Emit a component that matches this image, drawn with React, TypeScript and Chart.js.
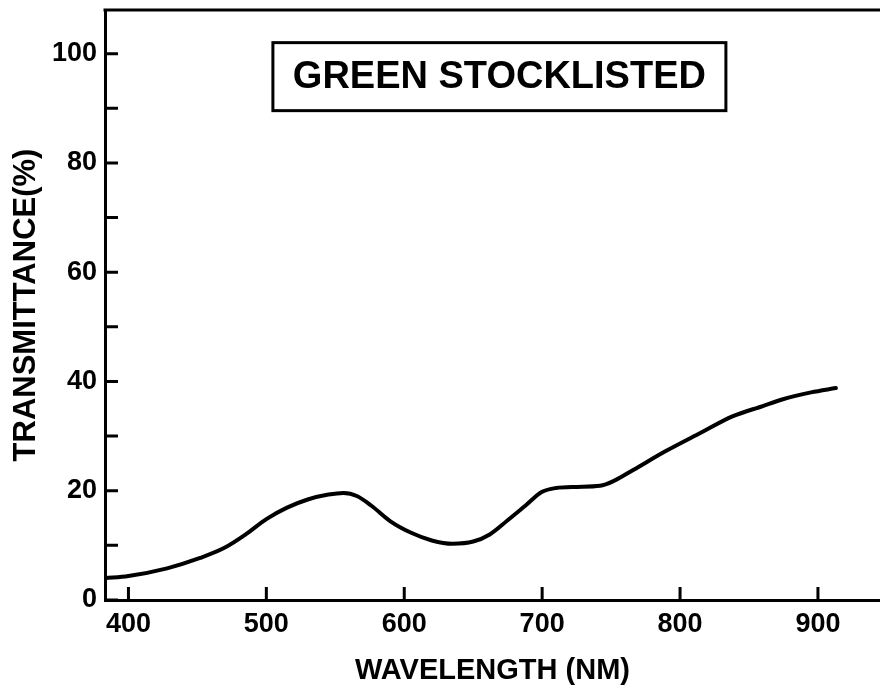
import { useEffect, useRef } from "react";
import { Chart, registerables } from "chart.js";

Chart.register(...registerables);

// ---- data ----
const wavelengths = [383, 400, 428, 452, 470, 485, 500, 515, 530, 545, 556, 566, 576, 590, 605, 620, 635, 650, 662, 675, 688, 700, 710, 725, 742, 752, 766, 790, 815, 838, 860, 874, 895, 913];
const transmittance = [4.0, 4.4, 5.8, 7.7, 9.6, 12.0, 14.8, 16.9, 18.4, 19.3, 19.6, 19.0, 17.3, 14.4, 12.3, 10.9, 10.3, 10.7, 12.0, 14.6, 17.3, 19.8, 20.5, 20.7, 20.9, 21.8, 23.8, 27.3, 30.6, 33.6, 35.5, 36.7, 38.0, 38.8];
const xTickValues = [400, 500, 600, 700, 800, 900];
const yTickValues = [0, 10, 20, 30, 40, 50, 60, 70, 80, 90, 100];
const yLabelValues = [0, 20, 40, 60, 80, 100];
const boxLabel = "GREEN STOCKLISTED";
const xTitle = "WAVELENGTH (NM)";
const yTitle = "TRANSMITTANCE(%)";

const FONT = '"Liberation Sans", Arial, Helvetica, sans-serif';

const framePlugin = {
  id: "framePlugin",
  afterDraw(chart: any) {
    const { ctx, chartArea, scales } = chart;
    const { left, top, right, bottom } = chartArea;
    const xs = scales.x;
    const ys = scales.y;
    ctx.save();
    ctx.strokeStyle = "#000";
    ctx.lineWidth = 3;
    ctx.lineCap = "butt";
    // top frame line
    ctx.beginPath();
    ctx.moveTo(left - 1.5, top);
    ctx.lineTo(right, top);
    ctx.stroke();
    // inward ticks on y axis
    ctx.beginPath();
    for (const v of yTickValues) {
      const py = ys.getPixelForValue(v);
      ctx.moveTo(left, py);
      ctx.lineTo(left + 13, py);
    }
    // inward ticks on x axis
    for (const v of xTickValues) {
      const px = xs.getPixelForValue(v);
      ctx.moveTo(px, bottom);
      ctx.lineTo(px, bottom - 13);
    }
    ctx.stroke();
    // boxed label
    const cx = xs.getPixelForValue(669);
    const cy = ys.getPixelForValue(95.8);
    const w = 453;
    const h = 68;
    ctx.lineWidth = 3;
    ctx.strokeRect(cx - w / 2, cy - h / 2, w, h);
    ctx.fillStyle = "#000";
    ctx.font = `bold 38px ${FONT}`;
    ctx.textAlign = "center";
    ctx.textBaseline = "middle";
    ctx.fillText(boxLabel, cx, cy + 1);
    ctx.restore();
  },
};

export default function App() {
  const canvasRef = useRef<HTMLCanvasElement | null>(null);

  useEffect(() => {
    document.body.style.margin = "0";
    const canvas = canvasRef.current;
    if (!canvas) return;
    const chart = new Chart(canvas, {
      type: "line",
      data: {
        datasets: [
          {
            data: wavelengths.map((w, i) => ({ x: w, y: transmittance[i] })),
            borderColor: "#000",
            borderWidth: 4,
            pointRadius: 0,
            fill: false,
            cubicInterpolationMode: "monotone",
            borderCapStyle: "round",
            borderJoinStyle: "round",
          },
        ],
      },
      options: {
        animation: false,
        responsive: false,
        maintainAspectRatio: false,
        layout: { padding: { top: 10, right: 0, left: 0, bottom: 0 } },
        plugins: {
          legend: { display: false },
          tooltip: { enabled: false },
          title: { display: false },
        },
        scales: {
          x: {
            type: "linear",
            min: 383,
            max: 945,
            grid: { display: false, drawTicks: false },
            border: { display: true, color: "#000", width: 3 },
            afterBuildTicks: (axis: any) => {
              axis.ticks = xTickValues.map((v) => ({ value: v }));
            },
            afterFit: (axis: any) => {
              axis.height = 91;
              axis.paddingLeft = 0;
              axis.paddingRight = 0;
            },
            ticks: {
              autoSkip: false,
              maxRotation: 0,
              padding: 8,
              color: "#000",
              font: { family: FONT, size: 27, weight: "bold" },
              callback: (v: any) => String(v),
            },
            title: {
              display: true,
              text: xTitle,
              color: "#000",
              font: { family: FONT, size: 29, weight: "bold" },
              padding: { top: 0, bottom: 3 },
            },
          },
          y: {
            type: "linear",
            min: 0,
            max: 108,
            grid: { display: false, drawTicks: false },
            border: { display: true, color: "#000", width: 3 },
            afterBuildTicks: (axis: any) => {
              axis.ticks = yTickValues.map((v) => ({ value: v }));
            },
            afterFit: (axis: any) => {
              axis.width = 105;
              axis.paddingTop = 0;
              axis.paddingBottom = 0;
            },
            ticks: {
              autoSkip: false,
              padding: 8,
              color: "#000",
              font: { family: FONT, size: 27, weight: "bold" },
              callback: (v: any) => (yLabelValues.includes(Number(v)) ? String(v) : ""),
            },
            title: {
              display: true,
              text: yTitle,
              color: "#000",
              font: { family: FONT, size: 31, weight: "bold" },
              padding: { top: 8, bottom: 0 },
            },
          },
        },
      } as any,
      plugins: [framePlugin],
    });
    return () => chart.destroy();
  }, []);

  return (
    <div style={{ position: "absolute", left: 0, top: 0, width: 880, height: 691, background: "#fff" }}>
      <canvas ref={canvasRef} width={880} height={691} style={{ display: "block", width: 880, height: 691 }} />
    </div>
  );
}
